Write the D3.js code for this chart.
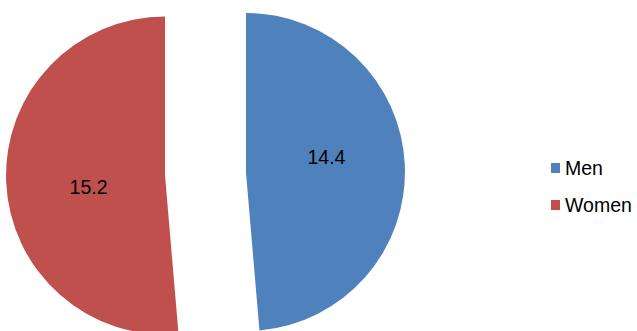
<!DOCTYPE html>
<html>
<head>
<meta charset="utf-8">
<script src="https://cdn.jsdelivr.net/npm/d3@7"></script>
<style>
  body { margin: 0; background: #fff; }
  svg { display: block; }
</style>
</head>
<body>
<div id="chart"></div>
<script>
var categories = ["Men", "Women"];
var values = [14.4, 15.2];
var colors = ["#4F81BD", "#C0504D"];

var width = 637,
  height = 331;
var cx = 205.5,
  cy = 173.7,
  radius = 159,
  explode = 40.5;

var svg = d3.select("#chart").append("svg").attr("width", width).attr("height", height);

var data = categories.map(function (c, i) {
  return { name: c, value: values[i], color: colors[i] };
});

var pie = d3.pie().sort(null).value(function (d) { return d.value; });
var arc = d3.arc().innerRadius(0).outerRadius(radius);
var arcs = pie(data);

var slices = svg
  .append("g")
  .selectAll("g")
  .data(arcs)
  .join("g")
  .attr("transform", function (d) {
    var mid = (d.startAngle + d.endAngle) / 2;
    return "translate(" + (cx + explode * Math.sin(mid)) + "," + (cy - explode * Math.cos(mid)) + ")";
  });

slices
  .append("path")
  .attr("d", arc)
  .attr("fill", function (d) { return d.data.color; });

slices
  .append("text")
  .attr("font-family", "Liberation Sans, Arial, sans-serif")
  .attr("font-size", 19.5)
  .attr("text-anchor", "middle")
  .attr("dy", "0.35em")
  .attr("fill", "#000")
  .attr("transform", function (d) {
    var mid = (d.startAngle + d.endAngle) / 2 - 0.12;
    var lr = radius * 0.5;
    return "translate(" + (lr * Math.sin(mid) + 2) + "," + (-lr * Math.cos(mid) - 1.5) + ")";
  })
  .text(function (d) { return d.data.value.toFixed(1); });

// legend
var legend = svg
  .append("g")
  .selectAll("g")
  .data(data)
  .join("g")
  .attr("transform", function (d, i) {
    return "translate(551," + (163 + i * 37) + ")";
  });

legend
  .append("rect")
  .attr("width", 9)
  .attr("height", 10)
  .attr("fill", function (d) { return d.color; });

legend
  .append("text")
  .attr("x", 14)
  .attr("y", 11.5)
  .attr("font-family", "Liberation Sans, Arial, sans-serif")
  .attr("font-size", 19.5)
  .attr("fill", "#000")
  .text(function (d) { return d.name; });
</script>
</body>
</html>
